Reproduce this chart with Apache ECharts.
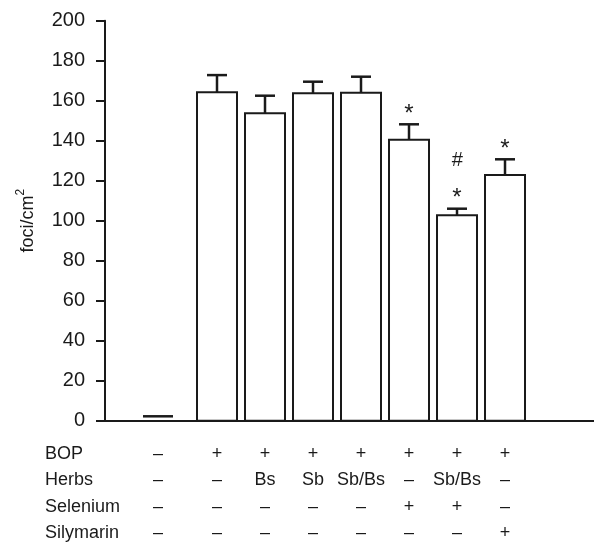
<!DOCTYPE html>
<html>
<head>
<meta charset="utf-8">
<script src="https://cdn.jsdelivr.net/npm/echarts@6/dist/echarts.min.js"></script>
<style>
  html, body { margin: 0; padding: 0; background: #fff; }
  #chart { width: 594px; height: 543px; }
</style>
</head>
<body>
<div id="chart"></div>
<script>
// ---- data ----
const groups = ['G1', 'G2', 'G3', 'G4', 'G5', 'G6', 'G7', 'G8'];
const means = [2.2, 164.2, 153.7, 163.7, 164.0, 140.5, 102.7, 122.8];
const sems = [0, 8.6, 8.8, 5.8, 8.0, 7.7, 3.3, 7.9];
const marksNear = ['', '', '', '', '', '*', '*', '*'];
const marksFar = ['', '', '', '', '', '', '#', ''];
const yTicks = [0, 20, 40, 60, 80, 100, 120, 140, 160, 180, 200];
const rowLabels = ['BOP', 'Herbs', 'Selenium', 'Silymarin'];
const rowBOP = ['–', '+', '+', '+', '+', '+', '+', '+'];
const rowHerbs = ['–', '–', 'Bs', 'Sb', 'Sb/Bs', '–', 'Sb/Bs', '–'];
const rowSelenium = ['–', '–', '–', '–', '–', '+', '+', '–'];
const rowSilymarin = ['–', '–', '–', '–', '–', '–', '–', '+'];
const tableRows = [rowBOP, rowHerbs, rowSelenium, rowSilymarin];

// ---- layout ----
const FONT = '"Liberation Sans", Arial, Helvetica, sans-serif';
const INK = '#1a1a1a';
const barW = 40;
const controlW = 30;
const controlShift = -11;   // control column sits a little left of the regular spacing
const capW = 20;

const chart = echarts.init(document.getElementById('chart'), null, { renderer: 'canvas' });

const seriesData = groups.map((g, i) => [i, means[i], sems[i]]);

const option = {
  animation: false,
  backgroundColor: '#fff',
  grid: { left: 105, right: 0, top: 20.7, bottom: 122.3, containLabel: false },
  xAxis: {
    type: 'value',
    min: -1.3333,
    max: 8.854,
    axisLine: { show: true, onZero: false, lineStyle: { color: INK, width: 2 } },
    axisTick: { show: false },
    axisLabel: { show: false },
    splitLine: { show: false }
  },
  yAxis: {
    type: 'value',
    min: yTicks[0],
    max: yTicks[yTicks.length - 1],
    interval: yTicks[1] - yTicks[0],
    name: '{a|foci/cm}{b|2}',
    nameLocation: 'middle',
    nameGap: 68,
    nameTextStyle: {
      fontFamily: FONT, fontSize: 18, color: INK,
      rich: {
        a: { fontFamily: FONT, fontSize: 18, color: INK, verticalAlign: 'bottom', lineHeight: 22 },
        b: { fontFamily: FONT, fontSize: 12, color: INK, verticalAlign: 'top', lineHeight: 22 }
      }
    },
    axisLine: { show: true, onZero: false, lineStyle: { color: INK, width: 2 } },
    axisTick: { show: true, inside: false, length: 9, lineStyle: { color: INK, width: 2 } },
    axisLabel: { margin: 20, fontFamily: FONT, fontSize: 20, color: INK },
    splitLine: { show: false }
  },
  series: [{
    type: 'custom',
    data: seriesData,
    encode: { x: 0, y: 1 },
    renderItem: function (params, api) {
      const x = api.value(0), m = api.value(1), s = api.value(2);
      const i = params.dataIndex;
      const top = api.coord([x, m]);
      const base = api.coord([x, 0]);
      const errTop = api.coord([x, m + s]);
      const children = [];
      if (s > 0) {
        children.push({
          type: 'rect',
          shape: { x: top[0] - barW / 2, y: top[1], width: barW, height: base[1] - top[1] },
          style: { fill: '#fff', stroke: INK, lineWidth: 2 }
        });
        children.push({
          type: 'line',
          shape: { x1: top[0], y1: top[1], x2: errTop[0], y2: errTop[1] },
          style: { stroke: INK, lineWidth: 2.5 }
        });
        children.push({
          type: 'line',
          shape: { x1: errTop[0] - capW / 2, y1: errTop[1], x2: errTop[0] + capW / 2, y2: errTop[1] },
          style: { stroke: INK, lineWidth: 2.5 }
        });
      } else {
        const cx = top[0] + controlShift;
        children.push({
          type: 'line',
          shape: { x1: cx - controlW / 2, y1: top[1], x2: cx + controlW / 2, y2: top[1] },
          style: { stroke: INK, lineWidth: 2.5 }
        });
      }
      if (marksNear[i]) {
        children.push({
          type: 'text',
          style: { text: marksNear[i], x: errTop[0], y: errTop[1] - 10, align: 'center', verticalAlign: 'middle',
                   font: '24px ' + FONT, fill: INK }
        });
      }
      if (marksFar[i]) {
        children.push({
          type: 'text',
          style: { text: marksFar[i], x: errTop[0], y: errTop[1] - 48, align: 'center', verticalAlign: 'middle',
                   font: 'italic 20px ' + FONT, fill: INK }
        });
      }
      return { type: 'group', children: children };
    }
  }]
};
chart.setOption(option);

// ---- treatment table beneath the axis ----
const rowY = [454, 480, 507, 533];
const elems = [];
rowLabels.forEach((lab, r) => {
  elems.push({
    type: 'text', x: 45, y: rowY[r],
    style: { text: lab, font: '18px ' + FONT, fill: INK, align: 'left', verticalAlign: 'middle' }
  });
  tableRows[r].forEach((t, c) => {
    const px = chart.convertToPixel({ xAxisIndex: 0 }, c) + (c === 0 ? controlShift : 0);
    elems.push({
      type: 'text', x: px, y: rowY[r],
      style: { text: t, font: '18px ' + FONT, fill: INK, align: 'center', verticalAlign: 'middle' }
    });
  });
});
chart.setOption({ graphic: elems });
</script>
</body>
</html>
